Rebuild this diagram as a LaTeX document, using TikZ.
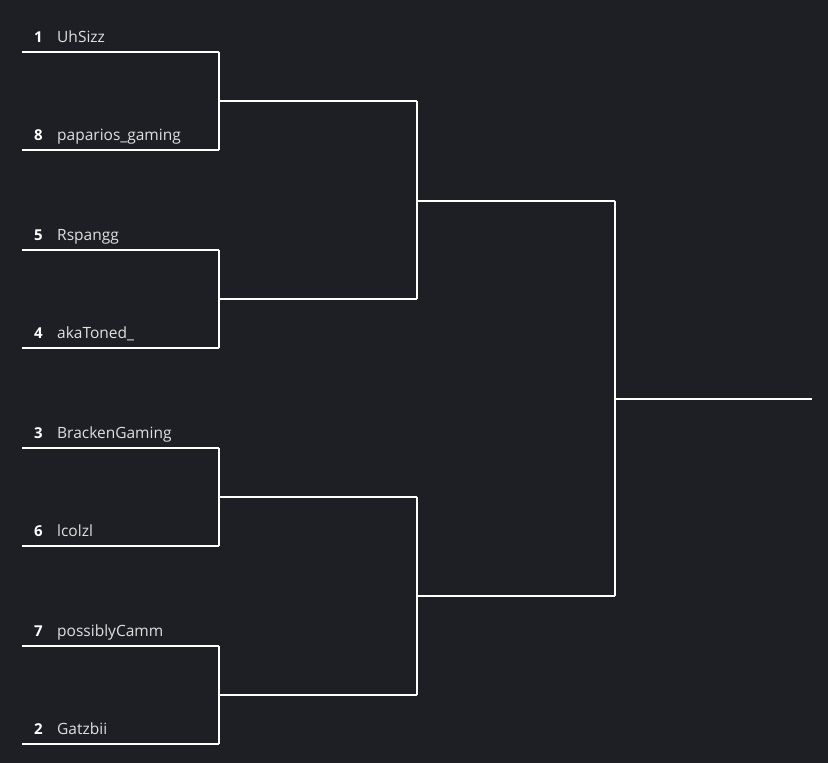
\documentclass[tikz,border=0pt]{standalone}
\usepackage{fontspec}
\setmainfont{Open Sans}
\begin{document}
\begin{tikzpicture}[x=1pt,y=-1pt,
  ln/.style={draw=white,line width=1.5pt},
  seedlbl/.style={text=white,font=\fontsize{15}{17}\selectfont\bfseries,anchor=base east,inner sep=0},
  teamlbl/.style={text=white!88!black,font=\fontsize{15.5}{17}\selectfont,anchor=base west,inner sep=0}]
\fill[fill={rgb,255:red,30;green,31;blue,36}] (0,0) rectangle (828,763);
\useasboundingbox (0,0) rectangle (828,763);
\foreach \i/\s/\n/\y in {1/1/UhSizz/52,2/8/paparios\_gaming/150,3/5/Rspangg/250,4/4/akaToned\_/348,5/3/BrackenGaming/448,6/6/lcolzl/546,7/7/possiblyCamm/646,8/2/Gatzbii/744}{
  \coordinate (a\i) at (22,\y);
  \coordinate (b\i) at (219,\y);
  \node[seedlbl] (s\i) at (43,\y-9.5) {\s};
  \node[teamlbl] (n\i) at (57,\y-9.5) {\n};
  \draw[ln] (a\i) -- (b\i);
}
\foreach \j/\y in {1/101,2/299,3/497,4/695}{
  \coordinate (c\j) at (219,\y);
  \coordinate (d\j) at (417,\y);
  \draw[ln] (c\j) -- (d\j);
}
\draw[ln] (b1)--(b2); \draw[ln] (b3)--(b4); \draw[ln] (b5)--(b6); \draw[ln] (b7)--(b8);
\coordinate (e1) at (417,201); \coordinate (f1) at (615,201);
\coordinate (e2) at (417,596); \coordinate (f2) at (615,596);
\draw[ln] (d1)--(d2); \draw[ln] (d3)--(d4);
\draw[ln] (e1)--(f1); \draw[ln] (e2)--(f2);
\draw[ln] (f1)--(f2);
\coordinate (g) at (615,399); \coordinate (h) at (812,399);
\draw[ln] (g)--(h);
\end{tikzpicture}
\end{document}
